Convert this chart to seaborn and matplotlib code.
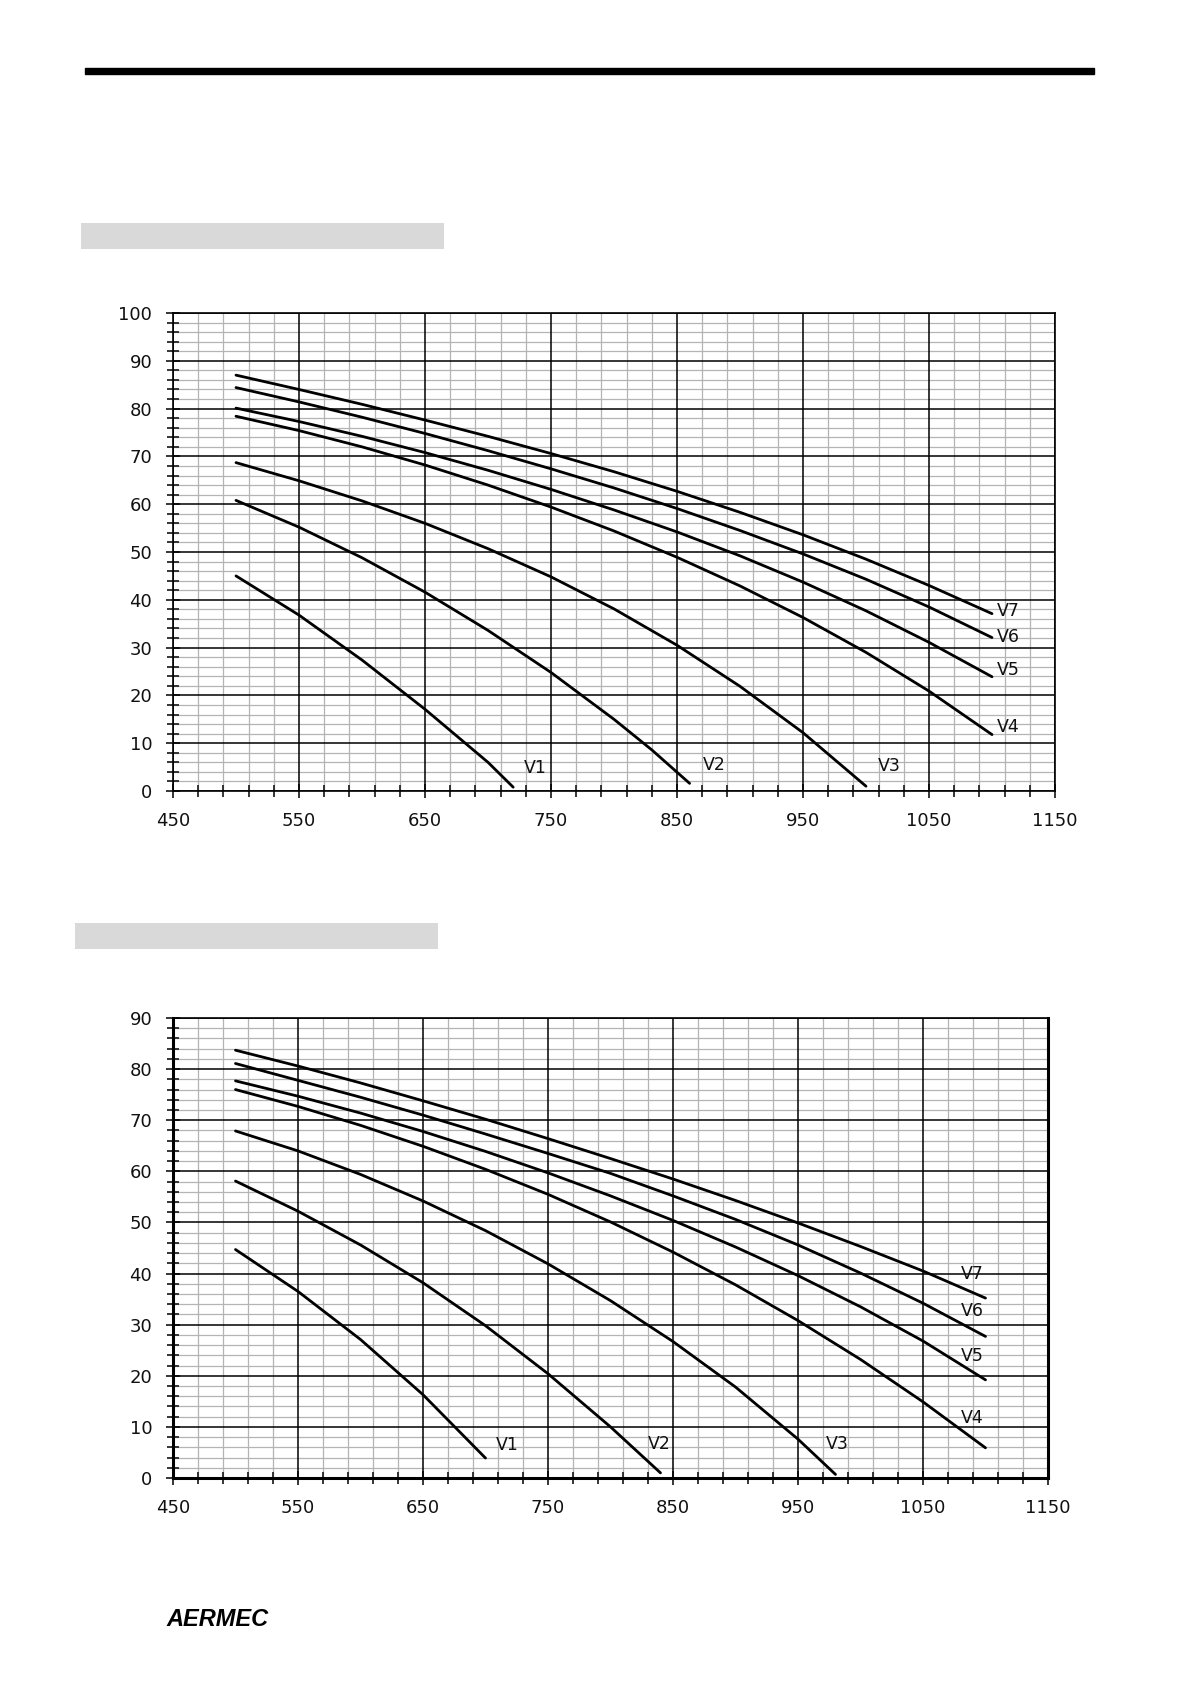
import numpy as np
import pandas as pd

import matplotlib
matplotlib.use("Agg")
import matplotlib.pyplot as plt
from matplotlib.patches import Rectangle
import seaborn as sns

plt.ioff()

sns.set_style("ticks")
plt.rcParams['font.family'] = ['DejaVu Sans']

# ---- data (airflow vs. available static pressure) ----
speeds = ["V1", "V2", "V3", "V4", "V5", "V6", "V7"]

x_ticks = [450, 550, 650, 750, 850, 950, 1050, 1150]
top_y_ticks = [0, 10, 20, 30, 40, 50, 60, 70, 80, 90, 100]
bottom_y_ticks = [0, 10, 20, 30, 40, 50, 60, 70, 80, 90]

# airflow points shared by the four fastest speeds
airflow_full = [500, 550, 600, 650, 700, 750, 800, 850, 900, 950, 1000, 1050, 1100]

# upper chart
top_v7 = [87.0, 84.0, 80.9, 77.6, 74.2, 70.6, 66.8, 62.7, 58.3, 53.6, 48.5, 43.0, 37.1]
top_v6 = [84.4, 81.4, 78.2, 74.8, 71.2, 67.4, 63.4, 59.1, 54.5, 49.6, 44.3, 38.5, 32.1]
top_v5 = [80.1, 77.3, 74.2, 70.8, 67.1, 63.1, 58.8, 54.2, 49.2, 43.7, 37.7, 31.1, 23.9]
top_v4 = [78.4, 75.4, 72.0, 68.2, 64.0, 59.4, 54.4, 48.9, 42.9, 36.3, 29.0, 20.9, 11.8]
top_v3_airflow = [500, 550, 600, 650, 700, 750, 800, 850, 900, 950, 1000]
top_v3 = [68.7, 64.9, 60.7, 56.0, 50.7, 44.8, 38.1, 30.5, 21.9, 12.2, 1.0]
top_v2_airflow = [500, 550, 600, 650, 700, 750, 800, 830, 860]
top_v2 = [60.8, 55.2, 48.8, 41.6, 33.6, 24.8, 15.0, 8.6, 1.6]
top_v1_airflow = [500, 550, 600, 650, 700, 720]
top_v1 = [45.0, 36.8, 27.4, 17.1, 6.0, 0.8]

# lower chart
bot_v7 = [83.7, 80.6, 77.3, 73.8, 70.2, 66.4, 62.5, 58.5, 54.3, 49.9, 45.3, 40.5, 35.2]
bot_v6 = [81.1, 77.8, 74.5, 71.0, 67.3, 63.5, 59.6, 55.2, 50.6, 45.6, 40.1, 34.2, 27.7]
bot_v5 = [77.7, 74.7, 71.4, 67.8, 63.9, 59.7, 55.2, 50.4, 45.2, 39.6, 33.5, 26.8, 19.2]
bot_v4 = [76.0, 72.7, 69.0, 64.9, 60.4, 55.5, 50.1, 44.2, 37.8, 30.8, 23.2, 14.9, 5.9]
bot_v3_airflow = [500, 550, 600, 650, 700, 750, 800, 850, 900, 950, 980]
bot_v3 = [67.9, 64.0, 59.4, 54.2, 48.4, 41.9, 34.7, 26.7, 17.8, 7.6, 0.7]
bot_v2_airflow = [500, 550, 600, 650, 700, 750, 800, 840]
bot_v2 = [58.1, 52.2, 45.6, 38.2, 29.8, 20.4, 10.0, 1.0]
bot_v1_airflow = [500, 550, 600, 650, 700]
bot_v1 = [44.7, 36.5, 27.1, 16.3, 3.9]

W, H, DPI = 1191, 1684, 100


def build_frame(curves):
    """Long table (airflow, pressure, speed) for seaborn."""
    frames = [pd.DataFrame({'airflow': x, 'pressure': y, 'speed': name})
              for name, x, y in curves]
    return pd.concat(frames, ignore_index=True)


def fan_chart(ax, curves, y_ticks, label_offsets, spine_lw):
    df = build_frame(curves)
    sns.lineplot(data=df, x='airflow', y='pressure', hue='speed',
                 palette={s: 'black' for s in speeds}, estimator=None,
                 sort=False, legend=False, lw=2.0, ax=ax, zorder=3)

    # curve names next to the curve ends
    for name, x, y in curves:
        ax.annotate(name, xy=(x[-1], y[-1]), xytext=label_offsets[name],
                    textcoords='offset pixels', fontsize=12.5, color='#111111',
                    ha='left', va='center')

    ax.set_xlim(x_ticks[0], x_ticks[-1])
    ax.set_ylim(y_ticks[0], y_ticks[-1])
    ax.set_xticks(x_ticks)
    ax.set_yticks(y_ticks)
    ax.set_xticks(np.arange(x_ticks[0], x_ticks[-1] + 1, 20), minor=True)
    ax.set_yticks(np.arange(y_ticks[0], y_ticks[-1] + 1, 2), minor=True)

    # grey fine grid underneath, black main grid on top of it
    ax.set_axisbelow(True)
    ax.grid(which='minor', color='#b4b4b4', lw=0.9)
    ax.grid(which='major', visible=False)
    for v in x_ticks:
        ax.axvline(v, color='black', lw=1.1, zorder=1)
    for v in y_ticks:
        ax.axhline(v, color='black', lw=1.1, zorder=1)

    ax.tick_params(which='major', direction='inout', length=10, width=1.3,
                   labelsize=13, labelcolor='#111111', pad=10)
    ax.tick_params(which='minor', direction='inout', length=8, width=1.3)
    ax.set_xlabel('')
    ax.set_ylabel('')
    for side, spine in ax.spines.items():
        spine.set_visible(True)
        spine.set_color('black')
        spine.set_linewidth(spine_lw.get(side, 1.2))
        spine.set_zorder(4)


fig = plt.figure(figsize=(W / DPI, H / DPI), dpi=DPI)
fig.patch.set_facecolor('white')

# page decorations: top rule and grey title boxes
fig.add_artist(Rectangle((85 / W, 1 - 74 / H), 1009 / W, 6 / H,
                         transform=fig.transFigure, color='black'))
fig.add_artist(Rectangle((81 / W, 1 - 249 / H), 363 / W, 26 / H,
                         transform=fig.transFigure, color='#d9d9d9', lw=0))
fig.add_artist(Rectangle((75 / W, 1 - 949 / H), 363 / W, 26 / H,
                         transform=fig.transFigure, color='#d9d9d9', lw=0))

ax1 = fig.add_axes([173 / W, 1 - 791 / H, 882 / W, 478 / H])
top_curves = [
    ("V1", top_v1_airflow, top_v1),
    ("V2", top_v2_airflow, top_v2),
    ("V3", top_v3_airflow, top_v3),
    ("V4", airflow_full, top_v4),
    ("V5", airflow_full, top_v5),
    ("V6", airflow_full, top_v6),
    ("V7", airflow_full, top_v7),
]
top_offsets = {"V1": (11, 19), "V2": (13, 18), "V3": (12, 20),
               "V4": (5, 8), "V5": (5, 7), "V6": (5, 1), "V7": (5, 3)}
fan_chart(ax1, top_curves, top_y_ticks, top_offsets, {})

ax2 = fig.add_axes([173 / W, 1 - 1478 / H, 875 / W, 460 / H])
bottom_curves = [
    ("V1", bot_v1_airflow, bot_v1),
    ("V2", bot_v2_airflow, bot_v2),
    ("V3", bot_v3_airflow, bot_v3),
    ("V4", airflow_full, bot_v4),
    ("V5", airflow_full, bot_v5),
    ("V6", airflow_full, bot_v6),
    ("V7", airflow_full, bot_v7),
]
bottom_offsets = {"V1": (10, 13), "V2": (-13, 29), "V3": (-10, 30),
                  "V4": (-25, 30), "V5": (-25, 24), "V6": (-25, 25), "V7": (-25, 24)}
fan_chart(ax2, bottom_curves, bottom_y_ticks, bottom_offsets,
          {'left': 2.2, 'bottom': 2.2, 'right': 2.2})

# manufacturer logo at the foot of the page
fig.text(166 / W, 1 - 1620 / H, "AERMEC", fontsize=17, fontweight='heavy',
         style='italic', family=['Liberation Sans', 'DejaVu Sans'],
         ha='left', va='center', color='black')

fig.savefig('out.png', dpi=DPI, facecolor='white')
